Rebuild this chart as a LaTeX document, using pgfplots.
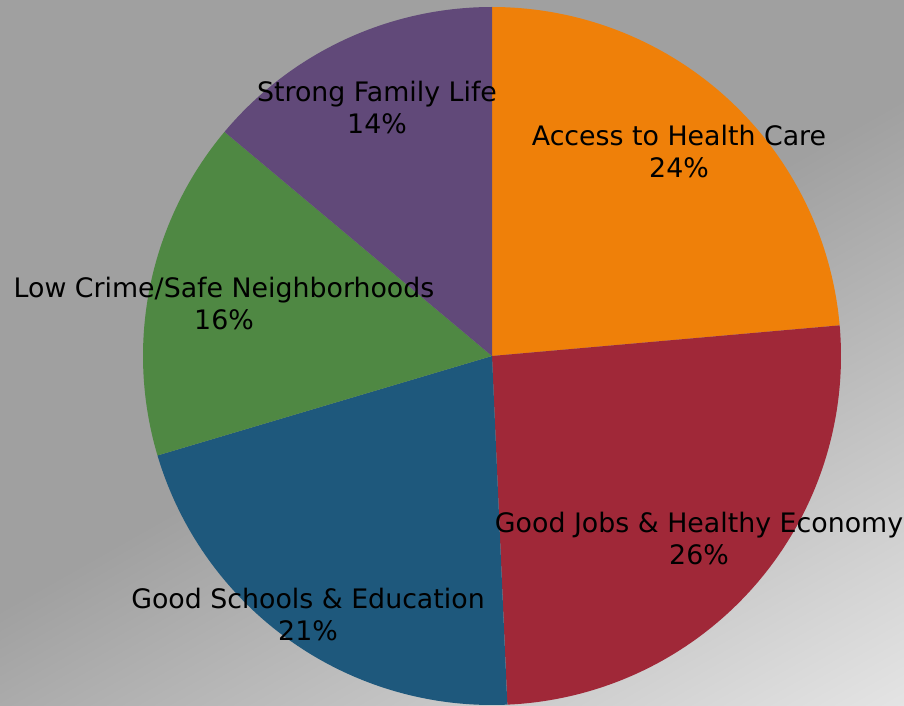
\documentclass[border=0pt]{standalone}
\usepackage{fontspec}
\setmainfont{DejaVu Sans}
\usepackage{pgfplots}
\pgfplotsset{compat=1.18}
\definecolor{bgdark}{HTML}{A0A0A0}
\definecolor{bglight}{HTML}{E4E4E4}
\definecolor{cHealth}{HTML}{EF8009}
\definecolor{cJobs}{HTML}{A02838}
\definecolor{cSchools}{HTML}{1E587C}
\definecolor{cCrime}{HTML}{4F8843}
\definecolor{cFamily}{HTML}{614979}
\pgfdeclareverticalshading{bgshade}{100bp}{color(0bp)=(bglight); color(15.9bp)=(bglight); color(50bp)=(bgdark); color(100bp)=(bgdark)}
\begin{document}
\begin{tikzpicture}[x=1pt,y=1pt]
\shade[shading=bgshade, shading angle=29.5] (0,0) rectangle (904,706);
\begin{axis}[at={(0,0)}, anchor=south west, scale only axis, width=904pt, height=706pt,
  xmin=0, xmax=904, ymin=0, ymax=706, hide axis, clip=false]
\pgfmathsetmacro\cum{0}
\pgfplotsforeachungrouped \v/\c in {23.6/cHealth,25.7/cJobs,21.1/cSchools,15.7/cCrime,13.9/cFamily}{%
  \pgfmathsetmacro\a{90-3.6*\cum}%
  \pgfmathsetmacro\b{90-3.6*(\cum+\v)}%
  \edef\doplot{\noexpand\addplot[draw=none, fill=\c, domain=\b:\a, samples=120] ({492+349*cos(x)},{350+349*sin(x)}) -- (axis cs:492,350) -- cycle;}%
  \doplot
  \pgfmathsetmacro\cum{\cum+\v}%
}
\begin{scope}[every node/.style={align=center, text=black, font=\fontsize{26.8}{32}\selectfont}]
\node at (axis cs:679,554) {Access to Health Care\\24\%};
\node at (axis cs:699,167) {Good Jobs \& Healthy Economy\\26\%};
\node at (axis cs:308,91) {Good Schools \& Education\\21\%};
\node at (axis cs:224,402) {Low Crime/Safe Neighborhoods\\16\%};
\node at (axis cs:377,598) {Strong Family Life\\14\%};
\end{scope}
\end{axis}
\pgfresetboundingbox
\path (0,0) rectangle (904,706);
\end{tikzpicture}
\end{document}
